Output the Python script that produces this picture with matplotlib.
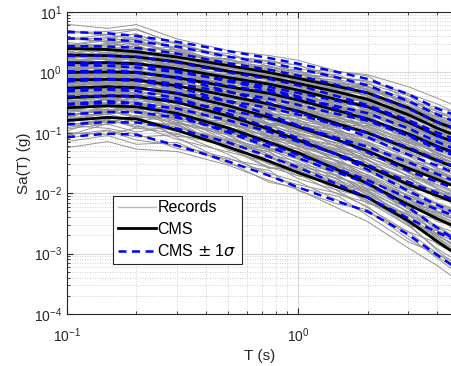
import numpy as np
import matplotlib
matplotlib.use("Agg")
import matplotlib.pyplot as plt
from matplotlib.lines import Line2D

plt.rcParams['font.family'] = ['Liberation Sans', 'DejaVu Sans']
plt.rcParams['mathtext.fontset'] = 'dejavusans'

# periods (s)
periods = [0.1, 0.15, 0.2, 0.3, 0.5, 0.75, 1.0, 1.5, 2.0, 3.0, 4.0, 5.0]

# conditional mean spectra, one per intensity level (g)
cms = [
    [2.5, 2.4, 2.2, 1.8, 1.3, 1.0, 0.80, 0.58, 0.46, 0.26, 0.15, 0.11],
    [1.95, 1.9, 1.8, 1.5, 1.05, 0.82, 0.66, 0.47, 0.36, 0.20, 0.12, 0.085],
    [1.45, 1.45, 1.4, 1.15, 0.82, 0.64, 0.51, 0.35, 0.27, 0.15, 0.09, 0.066],
    [1.0, 1.02, 1.0, 0.82, 0.58, 0.45, 0.35, 0.23, 0.17, 0.097, 0.060, 0.044],
    [0.75, 0.77, 0.75, 0.60, 0.41, 0.30, 0.23, 0.14, 0.10, 0.055, 0.035, 0.025],
    [0.55, 0.58, 0.56, 0.45, 0.28, 0.18, 0.126, 0.075, 0.050, 0.026, 0.017, 0.012],
    [0.38, 0.41, 0.40, 0.32, 0.19, 0.115, 0.076, 0.043, 0.028, 0.014, 0.0091, 0.0066],
    [0.26, 0.28, 0.27, 0.21, 0.12, 0.070, 0.047, 0.024, 0.0145, 0.0065, 0.0038, 0.0026],
    [0.16, 0.18, 0.17, 0.11, 0.058, 0.034, 0.022, 0.0125, 0.0085, 0.0035, 0.0016, 0.0009],
]

# log standard deviation of the conditional spectrum
sigma_ln = [0.63, 0.62, 0.60, 0.58, 0.55, 0.55, 0.56, 0.55, 0.53, 0.52, 0.52, 0.52]

# record spectra as log10 offsets from their CMS
record_offsets = [
    [0.25, 0.30, 0.38, 0.20, 0.15, 0.18, 0.22, 0.12, 0.10, 0.15, 0.12, 0.10],
    [-0.30, -0.22, -0.35, -0.25, -0.18, -0.20, -0.15, -0.22, -0.25, -0.18, -0.20, -0.22],
    [0.10, 0.05, 0.15, 0.08, 0.02, -0.05, 0.00, 0.06, 0.10, 0.05, 0.02, 0.00],
    [-0.12, -0.05, -0.10, -0.15, -0.08, -0.02, -0.10, -0.05, 0.00, -0.08, -0.12, -0.10],
    [0.18, 0.12, 0.05, 0.12, 0.20, 0.10, 0.05, 0.15, 0.20, 0.22, 0.18, 0.20],
    [-0.20, -0.28, -0.15, -0.05, -0.12, -0.25, -0.20, -0.10, -0.15, -0.25, -0.28, -0.30],
    [0.02, 0.10, 0.22, 0.15, -0.05, 0.05, 0.12, 0.02, -0.05, -0.02, 0.05, 0.08],
    [-0.05, -0.12, 0.00, 0.05, 0.10, 0.08, -0.02, -0.12, -0.08, 0.02, 0.08, 0.05],
    [0.30, 0.22, 0.12, 0.25, 0.08, 0.15, 0.10, 0.20, 0.05, 0.10, 0.25, 0.28],
    [-0.35, -0.30, -0.42, -0.20, -0.28, -0.15, -0.30, -0.28, -0.20, -0.30, -0.25, -0.25],
    [0.08, -0.08, 0.05, -0.10, 0.12, 0.00, -0.05, 0.08, -0.10, 0.12, -0.05, 0.02],
    [-0.18, 0.02, -0.05, 0.10, -0.02, -0.12, 0.08, -0.02, 0.12, -0.05, 0.10, 0.15],
    [0.40, 0.35, 0.45, 0.30, 0.25, 0.28, 0.30, 0.25, 0.30, 0.35, 0.40, 0.38],
    [-0.45, -0.40, -0.50, -0.35, -0.30, -0.32, -0.28, -0.35, -0.40, -0.45, -0.40, -0.42],
    [0.05, 0.18, 0.30, 0.10, 0.00, -0.10, -0.05, 0.05, 0.15, 0.20, 0.12, 0.10],
    [-0.08, -0.18, -0.25, -0.30, -0.20, -0.10, 0.02, 0.10, 0.05, -0.05, -0.15, -0.18],
    [0.15, 0.25, 0.20, 0.00, 0.05, 0.20, 0.15, 0.25, 0.28, 0.12, 0.05, 0.02],
    [-0.25, -0.10, 0.05, -0.12, -0.25, -0.35, -0.25, -0.15, -0.30, -0.35, -0.20, -0.15],
]

T = np.array(periods)
sig = np.array(sigma_ln)

fig = plt.figure(figsize=(4.52, 3.66), dpi=100)
ax = fig.add_axes([0.148, 0.142, 0.852, 0.825])

axcol = (0.15, 0.15, 0.15)
gray = (0.58, 0.58, 0.58)

# records
n_off = len(record_offsets)
for i, c in enumerate(cms):
    c = np.array(c)
    for j in range(n_off):
        off = np.array(record_offsets[(j + 5 * i) % n_off])
        ax.plot(T, c * 10 ** off, color=gray, lw=0.7, zorder=2)

# CMS
for c in cms:
    ax.plot(T, c, color='k', lw=2.0, zorder=3)

# CMS +/- 1 sigma
for c in cms:
    c = np.array(c)
    for s in (1, -1):
        ax.plot(T, c * np.exp(s * sig), color=(0, 0, 1), lw=1.8,
                dashes=(3.2, 2.2), zorder=4)

ax.set_xscale('log')
ax.set_yscale('log')
ax.set_xlim(0.1, 10 ** (-1 + 385 / 231))
ax.set_ylim(1e-4, 1e1)

ax.grid(True, which='major', color=(0.85, 0.85, 0.85), lw=0.8, zorder=0)
ax.grid(True, which='minor', color=(0.75, 0.75, 0.75), lw=0.6,
        linestyle=(0, (1, 2)), zorder=0)
ax.set_axisbelow(True)

for side in ('left', 'bottom', 'top'):
    ax.spines[side].set_color(axcol)
    ax.spines[side].set_linewidth(0.8)
ax.spines['right'].set_visible(False)

ax.tick_params(which='both', direction='in', top=True, right=False,
               colors=axcol, labelsize=10)
ax.tick_params(which='major', length=4)
ax.tick_params(which='minor', length=2)
ax.tick_params(axis='x', which='major', pad=9)
ax.set_yticks([1e-4, 1e-3, 1e-2, 1e-1, 1e0, 1e1])
ax.set_xticks([0.1, 1.0])

ax.set_xlabel('T (s)', fontsize=11, color=axcol, labelpad=3)
ax.set_ylabel('Sa(T) (g)', fontsize=11, color=axcol, labelpad=2)

handles = [
    Line2D([], [], color=(0.72, 0.72, 0.72), lw=1.0),
    Line2D([], [], color='k', lw=2.0),
    Line2D([], [], color=(0, 0, 1), lw=1.8, dashes=(3.2, 2.2)),
]
labels = ['Records', 'CMS', r'CMS $\pm$ 1$\sigma$']
leg = ax.legend(handles, labels, loc='lower left',
                bbox_to_anchor=(0.119, 0.166), borderaxespad=0,
                fontsize=11.5, fancybox=False, framealpha=1,
                handlelength=2.4, handletextpad=0.1, labelspacing=0.4,
                borderpad=0.3)
leg.get_frame().set_edgecolor(axcol)
leg.get_frame().set_linewidth(0.8)
leg.set_zorder(10)

fig.savefig('out.png', dpi=100)
